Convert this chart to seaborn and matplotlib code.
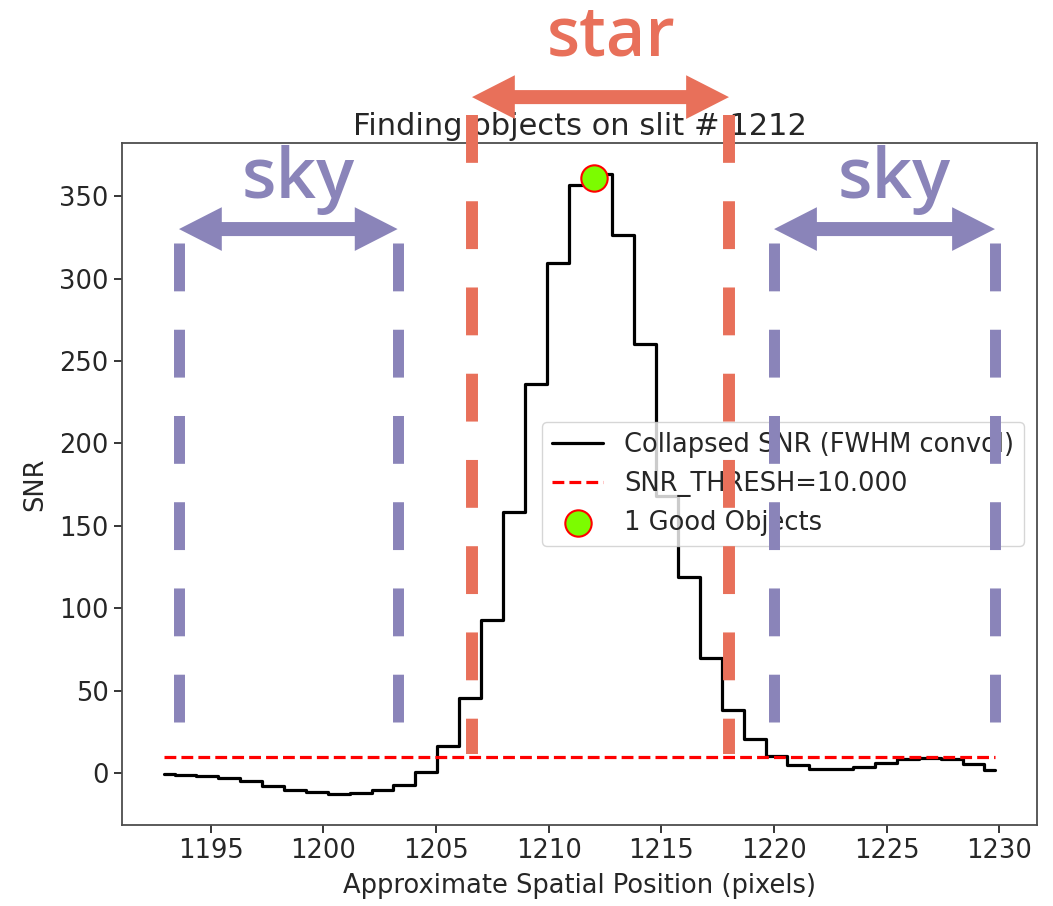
import matplotlib
matplotlib.use("Agg")
import matplotlib.pyplot as plt
from matplotlib.patches import Polygon
import seaborn as sns

# ---------------- data ----------------
position = [1192.92, 1193.89, 1194.86, 1195.83, 1196.80, 1197.78, 1198.75, 1199.72,
            1200.69, 1201.66, 1202.63, 1203.60, 1204.57, 1205.54, 1206.51, 1207.49,
            1208.46, 1209.43, 1210.40, 1211.37, 1212.34, 1213.31, 1214.28, 1215.25,
            1216.22, 1217.20, 1218.17, 1219.14, 1220.11, 1221.08, 1222.05, 1223.02,
            1223.99, 1224.96, 1225.93, 1226.91, 1227.88, 1228.85, 1229.82]
snr = [-0.6, -0.7, -1.4, -3.0, -4.6, -7.7, -10.1, -11.5,
       -12.5, -12.1, -10.0, -7.0, 1.0, 16.5, 45.8, 92.9,
       158.4, 236.2, 309.5, 357.0, 363.4, 326.5, 260.4, 168.0,
       119.3, 70.0, 38.3, 20.8, 10.4, 5.0, 2.8, 2.5,
       3.6, 6.0, 8.5, 9.1, 8.5, 5.6, 2.0]
snr_thresh = 10.0
obj_position = [1212.0]
obj_snr = [361.0]

title = "Finding objects on slit # 1212"
xlabel = "Approximate Spatial Position (pixels)"
ylabel = "SNR"
label_snr = "Collapsed SNR (FWHM convol)"
label_thresh = "SNR_THRESH=10.000"
label_obj = "1 Good Objects"

# annotation regions (data x) and levels (data y)
sky_left = [1193.6, 1203.3]
star_region = [1206.6, 1218.0]
sky_right = [1220.0, 1229.8]
sky_line_y = [321.5, 31.0]
star_line_y = [399.0, 12.0]
sky_arrow_y = 330.0
star_arrow_y = 410.0
sky_text_y = 349.0
star_text_y = 435.0

PURPLE = "#8a84b9"
ORANGE = "#e8705a"

# ---------------- style ----------------
sns.set_theme(style="ticks")
plt.rcParams["font.family"] = ["DejaVu Sans"]

fig = plt.figure(figsize=(10.53, 9.06), dpi=100)
ax = fig.add_axes([0.1159, 0.0894, 0.8689, 0.7528])

sns.lineplot(x=position, y=snr, ax=ax, color="black", lw=2.3,
             drawstyle="steps-mid", label=label_snr)
sns.lineplot(x=position, y=[snr_thresh] * len(position), ax=ax, color="red",
             lw=2.3, linestyle="--", label=label_thresh)
sns.scatterplot(x=obj_position, y=obj_snr, ax=ax, s=360, color="lawngreen",
                edgecolor="red", linewidth=1.5, label=label_obj, zorder=4)

ax.set_title(title, fontsize=22, color="0.15")
ax.set_xlabel(xlabel, fontsize=18.5, color="0.15", labelpad=6)
ax.set_ylabel(ylabel, fontsize=18.5, color="0.15", labelpad=8)
ax.tick_params(labelsize=18.5, length=6, width=1.3)
for sp in ax.spines.values():
    sp.set_linewidth(1.3)
    sp.set_color("0.3")

leg = ax.legend(loc="center right", fontsize=18.5, framealpha=0.8)

# ---------------- overlays ----------------
def vdash(x, ys, color, lw):
    ax.plot([x, x], ys, color=color, lw=lw, dashes=(4.36 * 7.9 / lw, 3.5 * 7.9 / lw),
            solid_capstyle="butt", dash_capstyle="butt", clip_on=False,
            scalex=False, scaley=False, zorder=10)


HEAD_LEN = 1.9     # data x units
HEAD_W = 26.5      # data y units (full width)
SHAFT_W = 8.5      # data y units (full width)


def double_arrow(x0, x1, y, color):
    hw, sw = HEAD_W / 2, SHAFT_W / 2
    pts = [(x0, y), (x0 + HEAD_LEN, y + hw), (x0 + HEAD_LEN, y + sw),
           (x1 - HEAD_LEN, y + sw), (x1 - HEAD_LEN, y + hw), (x1, y),
           (x1 - HEAD_LEN, y - hw), (x1 - HEAD_LEN, y - sw),
           (x0 + HEAD_LEN, y - sw), (x0 + HEAD_LEN, y - hw)]
    ax.add_patch(Polygon(pts, closed=True, facecolor=color, edgecolor="none",
                         clip_on=False, zorder=12))


text_dx = 0.45
for region in (sky_left, sky_right):
    for xv in region:
        vdash(xv, sky_line_y, PURPLE, 7.9)
    double_arrow(region[0], region[1], sky_arrow_y, PURPLE)
    ax.text((region[0] + region[1]) / 2 + text_dx, sky_text_y, "sky", color=PURPLE,
            fontsize=51, family="Open Sans", weight="semibold",
            ha="center", va="baseline", clip_on=False, zorder=12)

for xv in star_region:
    vdash(xv, star_line_y, ORANGE, 8.6)
double_arrow(star_region[0], star_region[1], star_arrow_y, ORANGE)
ax.text((star_region[0] + star_region[1]) / 2 + text_dx, star_text_y, "star", color=ORANGE,
        fontsize=49, family="Open Sans", weight="semibold",
        ha="center", va="baseline", clip_on=False, zorder=12)

fig.savefig("out.png", dpi=100)
